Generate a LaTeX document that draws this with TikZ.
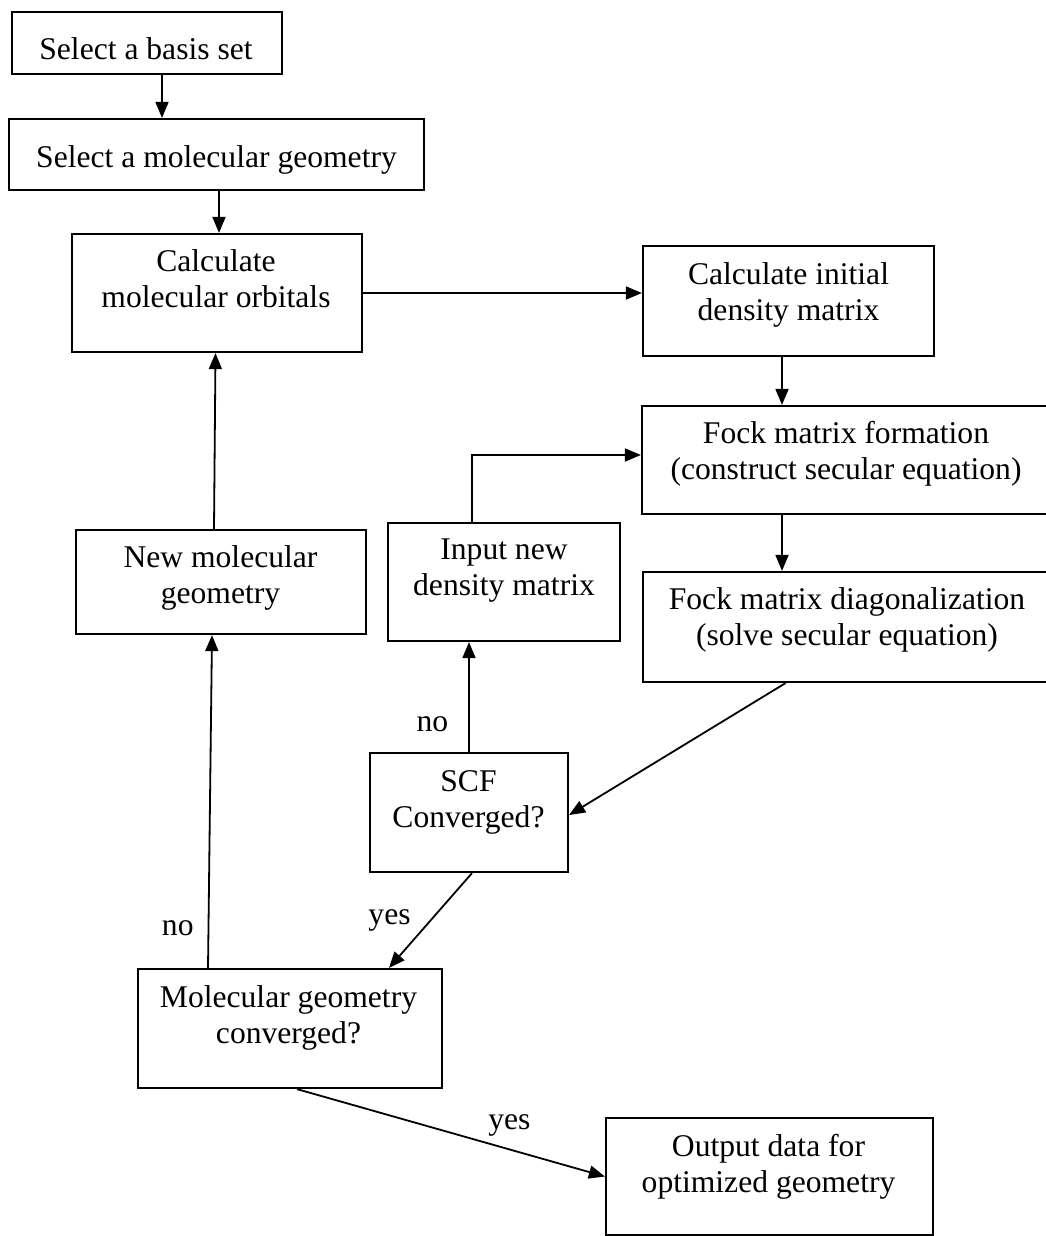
\documentclass[tikz,border=0pt]{standalone}
\usepackage{fontspec}
\setmainfont{Liberation Serif}
\usetikzlibrary{arrows.meta}

\begin{document}
\begin{tikzpicture}[x=1pt, y=-1pt, >={Triangle[length=16pt,width=13pt]}]
    \tikzstyle{stepbox}=[draw, line width=2.2pt, inner sep=0pt]
    \tikzstyle{txt}=[font=\fontsize{31.6}{36}\selectfont, align=center, inner sep=0pt, execute at begin node=\strut, execute at end node=\strut]
    \tikzstyle{lbl}=[font=\fontsize{31.6}{36}\selectfont, inner sep=0pt]
    \tikzstyle{arr}=[->, line width=1.8pt]

    \useasboundingbox (0,0) rectangle (1045,1236);

    % boxes
    \node[stepbox, minimum width=270pt, minimum height=62pt] (basis) at (147,43) {};
    \node[stepbox, minimum width=415pt, minimum height=71pt] (geom) at (216.5,154.5) {};
    \node[stepbox, minimum width=290pt, minimum height=118pt] (calc) at (217,293) {};
    \node[stepbox, minimum width=291pt, minimum height=110pt] (initial) at (788.5,301) {};
    \node[stepbox, minimum width=408pt, minimum height=108pt] (fock) at (846,460) {};
    \node[stepbox, minimum width=407pt, minimum height=110pt] (diag) at (846.5,627) {};
    \node[stepbox, minimum width=232pt, minimum height=118pt] (newdm) at (504,582) {};
    \node[stepbox, minimum width=290pt, minimum height=104pt] (newgeom) at (221,582) {};
    \node[stepbox, minimum width=198pt, minimum height=119pt] (scf) at (469,812.5) {};
    \node[stepbox, minimum width=304pt, minimum height=119pt] (molconv) at (290,1028.5) {};
    \node[stepbox, minimum width=327pt, minimum height=117pt] (output) at (769.5,1176.5) {};

    % texts
    \node[txt] at (146,52.8) {Select a basis set};
    \node[txt] at (216.5,159.8) {Select a molecular geometry};
    \node[txt] at (216,284.3) {Calculate\\molecular orbitals};
    \node[txt] at (788.5,296.8) {Calculate initial\\density matrix};
    \node[txt] at (846,455.8) {Fock matrix formation\\(construct secular equation)};
    \node[txt] at (847,621.8) {Fock matrix diagonalization\\(solve secular equation)};
    \node[txt] at (504,572.8) {Input new\\density matrix};
    \node[txt] at (220.5,580.3) {New molecular\\geometry};
    \node[txt] at (468.5,804.3) {SCF\\Converged?};
    \node[txt] at (288.5,1020.3) {Molecular geometry\\converged?};
    \node[txt] at (768.5,1168.3) {Output data for\\optimized geometry};

    % connectors
    \draw[arr] ([xshift=15pt]basis.south) -- ([xshift=15pt]basis.south |- geom.north);
    \draw[arr] ([xshift=2.5pt]geom.south) -- ([xshift=2.5pt]geom.south |- calc.north);
    \draw[arr] (calc.east) -- (calc.east -| initial.west);
    \draw[arr] ([xshift=-6.5pt]initial.south) -- ([xshift=-6.5pt]initial.south |- fock.north);
    \draw[arr] ([xshift=-64pt]fock.south) -- ([xshift=-64pt]fock.south |- diag.north);
    \draw[arr] ([xshift=-61pt]diag.south) -- ([yshift=-2.5pt]scf.east);
    \draw[arr] (scf.north) -- (scf.north |- newdm.south) node[lbl, pos=0.25, left=20pt] {no};
    \draw[arr] ([xshift=-32pt]newdm.north) |- ([yshift=5pt]fock.west);
    \draw[arr] ([xshift=3pt]scf.south) -- ([xshift=99pt]molconv.north) node[lbl, pos=0.5, left=19pt] {yes};
    \draw[arr] ([xshift=-82pt]molconv.north) -- ([xshift=-9pt]newgeom.south) node[lbl, pos=0.12, left=14pt] {no};
    \draw[arr] ([xshift=-7pt]newgeom.north) -- ([xshift=-1.5pt]calc.south);
    \draw[arr] ([xshift=7pt]molconv.south) -- (output.west) node[lbl, pos=0.69, above=12pt] {yes};
\end{tikzpicture}
\end{document}
